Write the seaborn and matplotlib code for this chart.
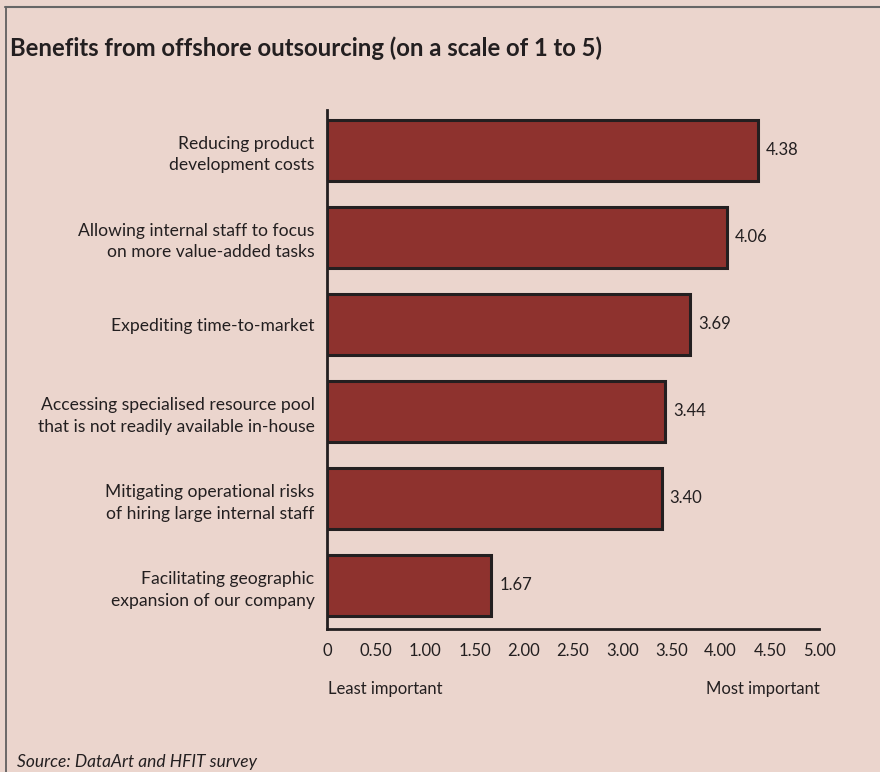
import matplotlib
matplotlib.use("Agg")
import matplotlib.pyplot as plt
import seaborn as sns
import pandas as pd
from matplotlib.lines import Line2D

categories = [
    "Reducing product\ndevelopment costs",
    "Allowing internal staff to focus\non more value-added tasks",
    "Expediting time-to-market",
    "Accessing specialised resource pool\nthat is not readily available in-house",
    "Mitigating operational risks\nof hiring large internal staff",
    "Facilitating geographic\nexpansion of our company",
]
values = [4.38, 4.06, 3.69, 3.44, 3.40, 1.67]
value_labels = ["4.38", "4.06", "3.69", "3.44", "3.40", "1.67"]
tick_values = [0, 0.5, 1.0, 1.5, 2.0, 2.5, 3.0, 3.5, 4.0, 4.5, 5.0]
tick_labels = ["0", "0.50", "1.00", "1.50", "2.00", "2.50", "3.00", "3.50", "4.00", "4.50", "5.00"]

BG = "#EBD5CD"
BAR = "#8E322E"
DARK = "#231F20"

sns.set_theme(style="white")
plt.rcParams["font.family"] = ["Lato", "DejaVu Sans"]

fig = plt.figure(figsize=(8.8, 7.72), dpi=100, facecolor=BG)
ax = fig.add_axes([327 / 880, 1 - 629 / 772, (819 - 327) / 880, (629 - 110) / 772])
ax.set_facecolor(BG)

df = pd.DataFrame({"cat": categories, "val": values})
sns.barplot(data=df, x="val", y="cat", orient="h", color=BAR, saturation=1,
            width=0.70, edgecolor=DARK, linewidth=2.2, ax=ax)

ax.set_xlim(0, 5.0)
ax.set_ylim(5.5, -0.46)
ax.set_xticks(tick_values)
ax.set_xticklabels(tick_labels, fontsize=12, color=DARK)
ax.tick_params(axis="x", direction="out", length=6, width=2, color=DARK, pad=4)
ax.tick_params(axis="y", length=0, pad=9, labelsize=12.6, labelcolor=DARK)
for lbl in ax.get_yticklabels():
    lbl.set_multialignment("right")
    lbl.set_linespacing(1.45)
ax.set_xlabel("")
ax.set_ylabel("")
for s in ["top", "right"]:
    ax.spines[s].set_visible(False)
for s in ["left", "bottom"]:
    ax.spines[s].set_linewidth(2)
    ax.spines[s].set_color(DARK)

for i, (v, t) in enumerate(zip(values, value_labels)):
    ax.text(v + 0.08, i, t, va="center", ha="left", fontsize=12, color=DARK)

fig.text(10 / 880, 1 - 48 / 772, "Benefits from offshore outsourcing (on a scale of 1 to 5)",
         fontsize=17.2, fontweight="bold", color=DARK, va="center", ha="left")
fig.text(328 / 880, 1 - 689 / 772, "Least important", fontsize=12, color=DARK,
         va="center", ha="left")
fig.text(820 / 880, 1 - 689 / 772, "Most important", fontsize=12, color=DARK,
         va="center", ha="right")
fig.text(17 / 880, 1 - 762 / 772, "Source: DataArt and HFIT survey", fontsize=12.5,
         style="italic", color=DARK, va="center", ha="left")

fig.add_artist(Line2D([5.5 / 880, 5.5 / 880], [0, 1 - 7 / 772], transform=fig.transFigure,
                      color="#555555", linewidth=1.2))
fig.add_artist(Line2D([5 / 880, 1], [1 - 7 / 772, 1 - 7 / 772], transform=fig.transFigure,
                      color="#666666", linewidth=1.5))

fig.savefig("out.png", dpi=100, facecolor=BG)
